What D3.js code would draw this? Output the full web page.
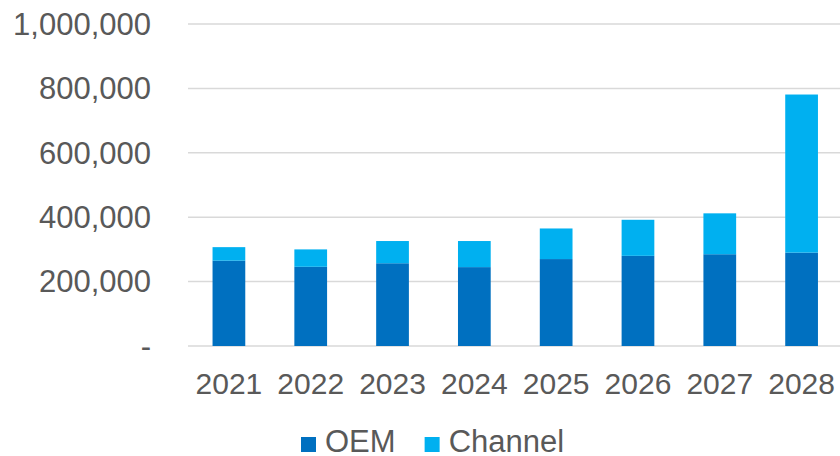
<!DOCTYPE html>
<html>
<head>
<meta charset="utf-8">
<script src="https://cdn.jsdelivr.net/npm/d3@7"></script>
<style>
  html, body { margin: 0; padding: 0; background: #fff; }
  svg { display: block; font-family: "Liberation Sans", Arial, sans-serif; }
</style>
</head>
<body>
<svg id="chart" width="840" height="456"></svg>
<script>
const years = ["2021", "2022", "2023", "2024", "2025", "2026", "2027", "2028"];
const oem = [265000, 246000, 257000, 245000, 270000, 280000, 285000, 290000];
const channel = [42000, 54000, 69000, 81000, 95000, 112000, 127000, 491000];
const yTicks = [0, 200000, 400000, 600000, 800000, 1000000];
const seriesNames = ["OEM", "Channel"];
const seriesColors = ["#0070C0", "#00B0F0"];

const svg = d3.select("#chart");
const W = 840, H = 456;
const plotLeft = 188, plotRight = 842.5, plotTop = 24, plotBottom = 346;

const x = d3.scaleBand().domain(years).range([plotLeft, plotRight]).paddingInner(0.6).paddingOuter(0.3);
const y = d3.scaleLinear().domain([0, 1000000]).range([plotBottom, plotTop]);

// gridlines
svg.append("g").selectAll("line").data(yTicks).join("line")
  .attr("x1", plotLeft).attr("x2", W)
  .attr("y1", d => y(d)).attr("y2", d => y(d))
  .attr("stroke", "#D9D9D9").attr("stroke-width", 1.5);

// y labels
const fmt = d3.format(",");
svg.append("g").selectAll("text").data(yTicks).join("text")
  .attr("x", 151).attr("y", d => y(d)).attr("dy", "0.35em")
  .attr("text-anchor", "end")
  .attr("font-size", 31).attr("fill", "#595959")
  .text(d => d === 0 ? "-" : fmt(d));

// stacked bars
const rows = years.map((yr, i) => ({ year: yr, OEM: oem[i], Channel: channel[i] }));
const stack = d3.stack().keys(seriesNames)(rows);
svg.append("g").selectAll("g").data(stack).join("g")
  .attr("fill", (d, i) => seriesColors[i])
  .selectAll("rect").data(d => d).join("rect")
  .attr("x", d => x(d.data.year))
  .attr("width", x.bandwidth())
  .attr("y", d => y(d[1]))
  .attr("height", d => y(d[0]) - y(d[1]));

// x labels
svg.append("g").selectAll("text").data(years).join("text")
  .attr("x", d => x(d) + x.bandwidth() / 2).attr("y", 394)
  .attr("text-anchor", "middle")
  .attr("font-size", 30).attr("fill", "#595959")
  .text(d => d);

// legend
const lg = svg.append("g");
let lx = 301;
seriesNames.forEach((name, i) => {
  lg.append("rect").attr("x", lx).attr("y", 437).attr("width", 15).attr("height", 15)
    .attr("fill", seriesColors[i]);
  const t = lg.append("text").attr("x", lx + 24).attr("y", 452)
    .attr("font-size", 31).attr("fill", "#595959").text(name);
  lx = lx + 24 + t.node().getComputedTextLength() + 29;
});
</script>
</body>
</html>
